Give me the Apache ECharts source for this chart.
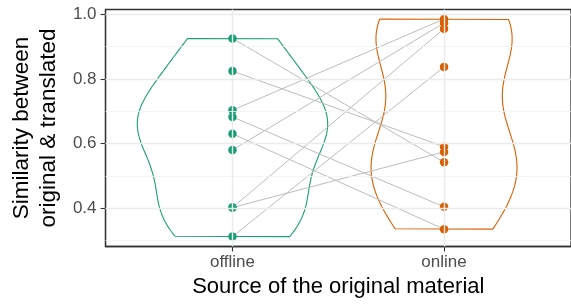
<!DOCTYPE html>
<html>
<head>
<meta charset="utf-8">
<script src="https://cdn.jsdelivr.net/npm/echarts@6/dist/echarts.min.js"></script>
<style>
  html, body { margin: 0; padding: 0; background: #fff; }
  #violin { width: 571px; height: 304px; }
</style>
</head>
<body>
<div id="violin"></div>
<script>
const categories = ['offline', 'online'];
// same index = same material, offline score vs online score
const offlineScores = [0.925, 0.824, 0.703, 0.682, 0.630, 0.580, 0.402, 0.402, 0.312];
const onlineScores = [0.542, 0.590, 0.985, 0.404, 0.335, 0.973, 0.955, 0.574, 0.837];
const yTicks = [0.4, 0.6, 0.8, 1.0];
const yMinorGrid = [0.3, 0.5, 0.7, 0.9];
const colors = ['#1b9e77', '#d95f02'];

function quantile(sorted, p) {
  const h = (sorted.length - 1) * p;
  const lo = Math.floor(h);
  return sorted[lo] + (h - lo) * ((sorted[lo + 1] ?? sorted[lo]) - sorted[lo]);
}

function bwNrd0(vals) {
  const n = vals.length;
  const mean = vals.reduce((a, b) => a + b, 0) / n;
  const sd = Math.sqrt(vals.reduce((a, b) => a + (b - mean) * (b - mean), 0) / (n - 1));
  const s = vals.slice().sort((a, b) => a - b);
  const iqr = quantile(s, 0.75) - quantile(s, 0.25);
  return 0.9 * Math.min(sd, iqr / 1.34) * Math.pow(n, -0.2);
}

function kde(vals) {
  const bw = bwNrd0(vals);
  const lo = Math.min(...vals);
  const hi = Math.max(...vals);
  const out = [];
  for (let i = 0; i < 512; i++) {
    const y = lo + (hi - lo) * i / 511;
    let d = 0;
    vals.forEach((v) => {
      const z = (y - v) / bw;
      d += Math.exp(-0.5 * z * z);
    });
    out.push([y, d / (vals.length * bw * Math.sqrt(2 * Math.PI))]);
  }
  return out;
}

function violinOutline(dens, center, maxDens) {
  const right = dens.map(([y, d]) => [center + 0.45 * d / maxDens, y]);
  const left = dens.slice().reverse().map(([y, d]) => [center - 0.45 * d / maxDens, y]);
  return right.concat(left, [right[0]]);
}

function getOption() {
  const dens = [kde(offlineScores), kde(onlineScores)];
  const maxDens = Math.max(...dens.map((g) => Math.max(...g.map((p) => p[1]))));
  const font = 'Liberation Sans';

  const gridLines = [];
  yTicks.forEach((v) => gridLines.push({ yAxis: v, lineStyle: { type: 'solid', color: '#ebebeb', width: 1.4 } }));
  yMinorGrid.forEach((v) => gridLines.push({ yAxis: v, lineStyle: { type: 'solid', color: '#f2f2f2', width: 0.8 } }));
  [1, 2].forEach((v) => gridLines.push({ xAxis: v, lineStyle: { type: 'solid', color: '#ebebeb', width: 1.4 } }));

  const violins = dens.map((g, i) => ({
    type: 'line',
    data: violinOutline(g, i + 1, maxDens),
    symbol: 'none',
    silent: true,
    z: 2,
    lineStyle: { color: colors[i], width: 1.1 },
  }));

  return {
    animation: false,
    grid: {
      left: 97,
      top: 9.5,
      width: 476,
      height: 237,
      show: true,
      borderColor: '#333333',
      borderWidth: 1.3,
    },
    xAxis: {
      type: 'value',
      min: 0.4,
      max: 2.6,
      name: 'Source of the original material',
      nameLocation: 'middle',
      nameGap: 29,
      nameTextStyle: { fontFamily: font, fontSize: 22, color: '#000' },
      axisLine: { show: true, lineStyle: { color: '#333333', width: 1.3 } },
      axisTick: { show: true, length: 5, customValues: [1, 2], lineStyle: { color: '#333333', width: 1.1 } },
      axisLabel: {
        customValues: [1, 2],
        formatter: (v) => categories[Math.round(v) - 1],
        margin: 7,
        fontFamily: font,
        fontSize: 17,
        color: '#4d4d4d',
      },
      splitLine: { show: false },
    },
    yAxis: {
      type: 'value',
      min: 0.2813,
      max: 1.0145,
      name: 'Similarity between\noriginal & translated',
      nameLocation: 'middle',
      nameRotate: 90,
      nameGap: 38,
      nameTextStyle: { fontFamily: font, fontSize: 22.5, color: '#000', lineHeight: 27 },
      axisLine: { show: true, lineStyle: { color: '#333333', width: 1.3 } },
      axisTick: { show: true, length: 5, customValues: yTicks, lineStyle: { color: '#333333', width: 1.1 } },
      axisLabel: {
        customValues: yTicks,
        formatter: (v) => v.toFixed(1),
        margin: 9,
        fontFamily: font,
        fontSize: 17,
        color: '#4d4d4d',
      },
      splitLine: { show: false },
    },
    series: [
      {
        type: 'line',
        data: [],
        silent: true,
        z: 1,
        markLine: {
          silent: true,
          symbol: 'none',
          label: { show: false },
          animation: false,
          data: gridLines,
        },
      },
      ...violins,
      {
        type: 'lines',
        coordinateSystem: 'cartesian2d',
        silent: true,
        z: 3,
        lineStyle: { color: '#bcbcbc', width: 1, opacity: 1 },
        data: offlineScores.map((v, i) => ({ coords: [[1, v], [2, onlineScores[i]]] })),
      },
      {
        type: 'scatter',
        z: 4,
        symbolSize: 8.5,
        itemStyle: { color: colors[0], opacity: 1 },
        data: offlineScores.map((v) => [1, v]),
      },
      {
        type: 'scatter',
        z: 4,
        symbolSize: 8.5,
        itemStyle: { color: colors[1], opacity: 1 },
        data: onlineScores.map((v) => [2, v]),
      },
    ],
  };
}

const chart = echarts.init(document.getElementById('violin'));
chart.setOption(getOption());
</script>
</body>
</html>
